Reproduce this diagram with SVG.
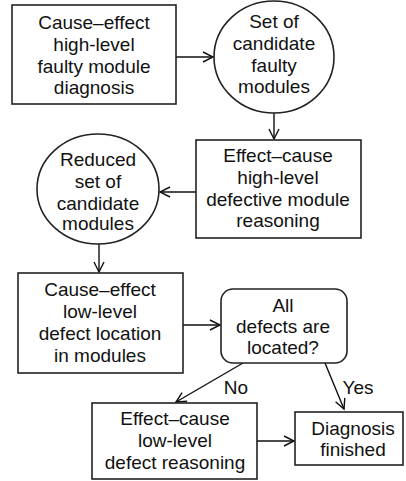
<svg xmlns="http://www.w3.org/2000/svg" width="406" height="481" viewBox="0 0 406 481">
<style>
.box{fill:#fff;stroke:#222;stroke-width:1.6}
.t{font-family:"Liberation Sans",Arial,sans-serif;font-size:19px;fill:#111;text-anchor:middle}
.c{fill:none;stroke:#111;stroke-width:1.4}
</style>
<defs>
<marker id="ah" markerUnits="userSpaceOnUse" markerWidth="14" markerHeight="14" refX="11" refY="6" orient="auto">
<path d="M1,1 L11,6 L1,11" fill="none" stroke="#111" stroke-width="1.4"/>
</marker>
</defs>
<rect width="406" height="481" fill="#fff"/>
<g id="connectors">
<line class="c" x1="176" y1="57" x2="213" y2="57" marker-end="url(#ah)"/>
<line class="c" x1="274" y1="113" x2="274" y2="139" marker-end="url(#ah)"/>
<line class="c" x1="196" y1="192" x2="160" y2="192" marker-end="url(#ah)"/>
<line class="c" x1="99" y1="243" x2="99" y2="272" marker-end="url(#ah)"/>
<line class="c" x1="183" y1="325" x2="220" y2="325" marker-end="url(#ah)"/>
<line class="c" x1="243" y1="363" x2="176" y2="402" marker-end="url(#ah)"/>
<line class="c" x1="325" y1="363" x2="344" y2="409" marker-end="url(#ah)"/>
<line class="c" x1="257" y1="441" x2="294" y2="441" marker-end="url(#ah)"/>
<text class="t" x="236" y="394">No</text>
<text class="t" x="358" y="394">Yes</text>
</g>
<g id="n1">
<rect class="box" x="12" y="5" width="164" height="99"/>
<text class="t" x="94" y="29">Cause–effect</text>
<text class="t" x="94" y="51">high-level</text>
<text class="t" x="94" y="73">faulty module</text>
<text class="t" x="94" y="94">diagnosis</text>
</g>
<g id="n2">
<ellipse class="box" cx="274" cy="57" rx="60" ry="56"/>
<text class="t" x="274" y="28">Set of</text>
<text class="t" x="274" y="50">candidate</text>
<text class="t" x="274" y="72">faulty</text>
<text class="t" x="274" y="93">modules</text>
</g>
<g id="n3">
<rect class="box" x="196" y="140" width="165" height="98"/>
<text class="t" x="278" y="162">Effect–cause</text>
<text class="t" x="278" y="184">high-level</text>
<text class="t" x="278" y="206">defective module</text>
<text class="t" x="278" y="227">reasoning</text>
</g>
<g id="n4">
<ellipse class="box" cx="98" cy="189" rx="61" ry="55"/>
<text class="t" x="98" y="166">Reduced</text>
<text class="t" x="98" y="188">set of</text>
<text class="t" x="98" y="210">candidate</text>
<text class="t" x="98" y="230">modules</text>
</g>
<g id="n5">
<rect class="box" x="18" y="273" width="165" height="100"/>
<text class="t" x="100" y="296">Cause–effect</text>
<text class="t" x="100" y="318">low-level</text>
<text class="t" x="100" y="340">defect location</text>
<text class="t" x="100" y="362">in modules</text>
</g>
<g id="n6">
<rect class="box" x="221" y="289" width="126" height="74" rx="12"/>
<text class="t" x="283" y="312">All</text>
<text class="t" x="283" y="333">defects are</text>
<text class="t" x="283" y="354">located?</text>
</g>
<g id="n7">
<rect class="box" x="92" y="403" width="165" height="76"/>
<text class="t" x="175" y="425">Effect–cause</text>
<text class="t" x="175" y="447">low-level</text>
<text class="t" x="175" y="469">defect reasoning</text>
</g>
<g id="n8">
<rect class="box" x="295" y="412" width="108" height="53"/>
<text class="t" x="353" y="435">Diagnosis</text>
<text class="t" x="353" y="456">finished</text>
</g>
</svg>
